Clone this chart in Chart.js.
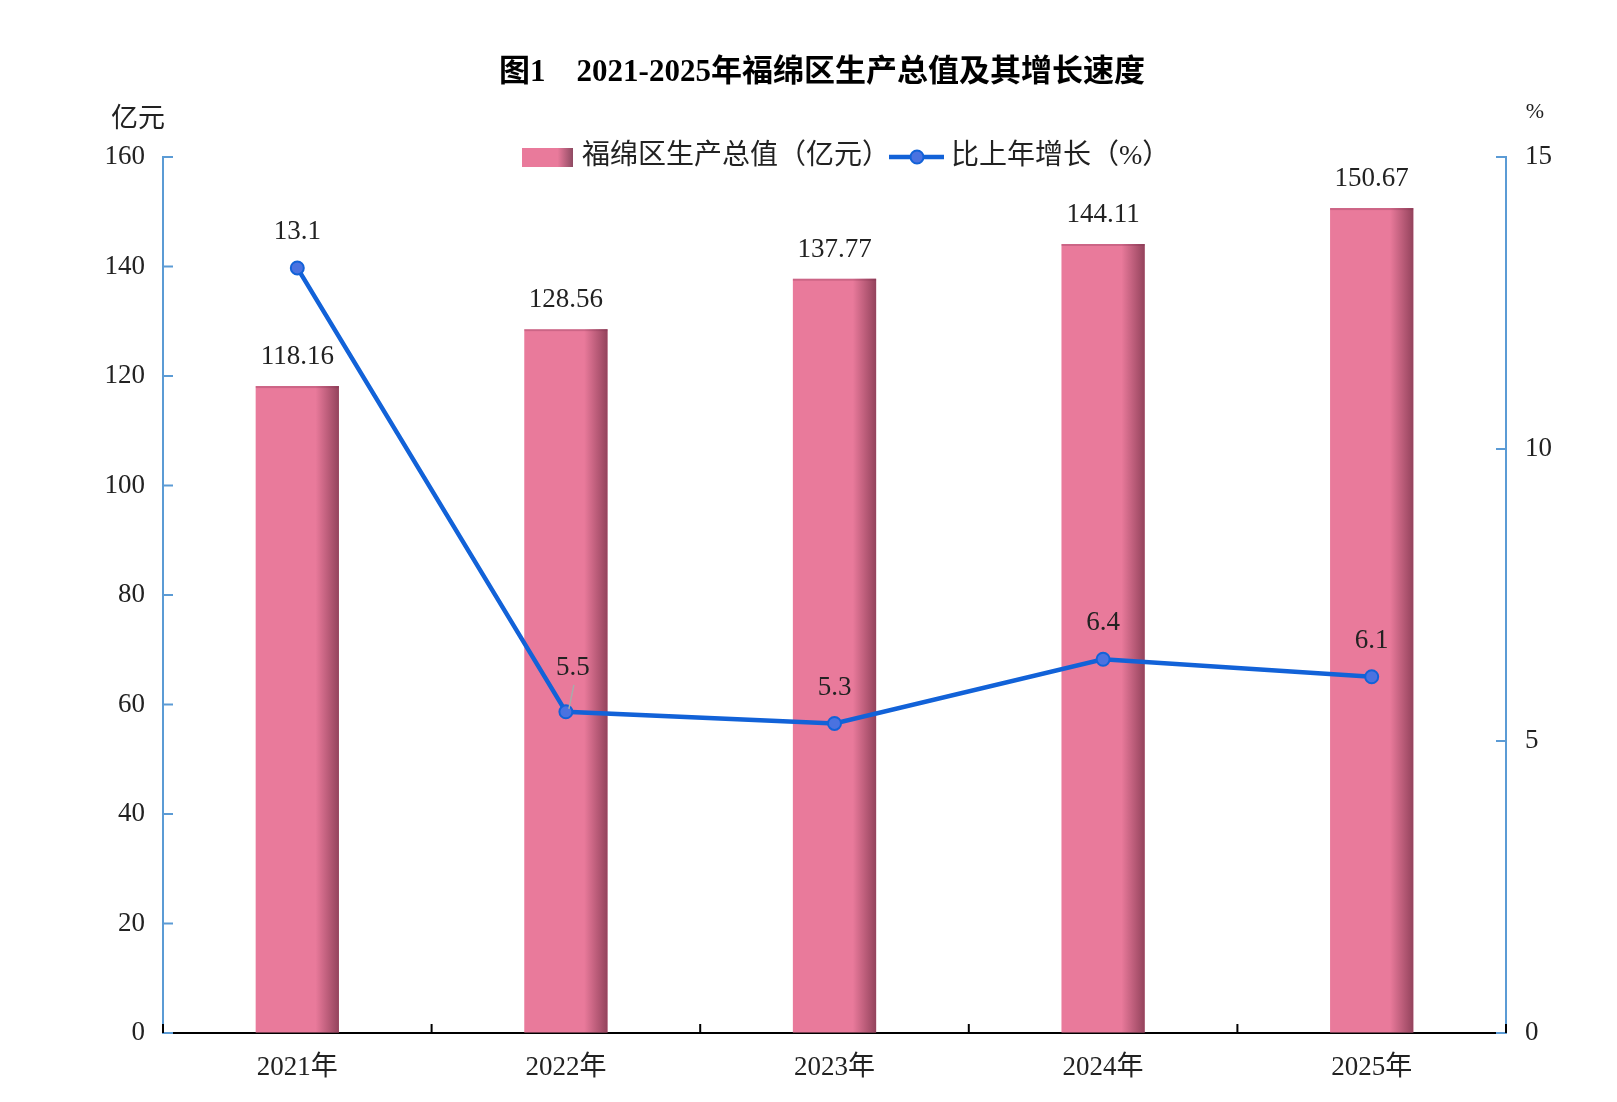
<!DOCTYPE html>
<html>
<head>
<meta charset="utf-8">
<script src="https://cdn.jsdelivr.net/npm/chart.js@4.4.1/dist/chart.umd.min.js"></script>
<style>
  html, body { margin: 0; background: #fff; }
  #wrap { width: 1617px; height: 1102px; }
</style>
</head>
<body>
<div id="wrap"><canvas id="gdpChart"></canvas></div>
<script>
// data
const years = ['2021年', '2022年', '2023年', '2024年', '2025年'];
const gdp = [118.16, 128.56, 137.77, 144.11, 150.67];      // 亿元
const growth = [13.1, 5.5, 5.3, 6.4, 6.1];                 // %
const leftMax = 160, leftStep = 20;
const rightMax = 15, rightStep = 5;

const serif = '"Liberation Serif", "Noto Sans CJK SC", serif';
const axisBlue = '#5B9BD5';
const lineBlue = '#1262D8';
const pink = '#E97A9B';
const textCol = '#222';

// title, legend, units, inward ticks, labels, bar shading
const decor = {
    id: 'decor',
    afterDatasetDraw(chart, args) {
        if (args.index !== 0) return;
        const ctx = chart.ctx;
        args.meta.data.forEach(bar => {
            const l = bar.x - bar.width / 2;
            const g = ctx.createLinearGradient(l, 0, l + bar.width, 0);
            g.addColorStop(0, 'rgba(90,30,50,0)');
            g.addColorStop(0.72, 'rgba(90,30,50,0)');
            g.addColorStop(1, 'rgba(90,30,50,0.6)');
            ctx.fillStyle = g;
            ctx.fillRect(l, bar.y, bar.width, bar.base - bar.y);
            ctx.fillStyle = 'rgba(120,40,70,0.25)';
            ctx.fillRect(l, bar.y, bar.width, 2);
        });
    },
    afterDraw(chart) {
        const ctx = chart.ctx;
        const area = chart.chartArea;
        const y = chart.scales.y, y1 = chart.scales.y1, x = chart.scales.x;
        ctx.save();

        // title
        ctx.fillStyle = '#000';
        ctx.font = 'bold 31px ' + serif;
        ctx.textAlign = 'center';
        ctx.textBaseline = 'middle';
        ctx.fillText('图1　2021-2025年福绵区生产总值及其增长速度', 822, 73);

        // units
        ctx.font = '27px ' + serif;
        ctx.fillStyle = textCol;
        ctx.fillText('亿元', 138, 120);
        ctx.font = '22px ' + serif;
        ctx.fillText('%', 1535, 112);

        // legend
        const ly = 157;
        const g = ctx.createLinearGradient(522, 0, 573, 0);
        g.addColorStop(0, pink);
        g.addColorStop(0.7, pink);
        g.addColorStop(1, '#8E4A62');
        ctx.fillStyle = g;
        ctx.fillRect(522, ly - 9, 51, 19);
        ctx.font = '28px ' + serif;
        ctx.fillStyle = textCol;
        ctx.textAlign = 'left';
        ctx.fillText('福绵区生产总值（亿元）', 582, ly);
        ctx.strokeStyle = lineBlue;
        ctx.lineWidth = 4.5;
        ctx.beginPath();
        ctx.moveTo(889, ly);
        ctx.lineTo(944, ly);
        ctx.stroke();
        ctx.beginPath();
        ctx.arc(917, ly, 6.5, 0, Math.PI * 2);
        ctx.fillStyle = '#4A72E0';
        ctx.fill();
        ctx.lineWidth = 2;
        ctx.stroke();
        ctx.fillStyle = textCol;
        ctx.fillText('比上年增长（%）', 951, ly);

        // inward tick marks
        ctx.lineWidth = 2;
        ctx.strokeStyle = axisBlue;
        y.ticks.forEach(t => {
            const p = y.getPixelForValue(t.value);
            ctx.beginPath();
            ctx.moveTo(area.left, p);
            ctx.lineTo(area.left + 10, p);
            ctx.stroke();
        });
        y1.ticks.forEach(t => {
            const p = y1.getPixelForValue(t.value);
            ctx.beginPath();
            ctx.moveTo(area.right, p);
            ctx.lineTo(area.right - 10, p);
            ctx.stroke();
        });
        ctx.strokeStyle = '#000';
        const half = (x.getPixelForValue(1) - x.getPixelForValue(0)) / 2;
        for (let i = 0; i <= years.length; i++) {
            const p = x.getPixelForValue(i) - half;
            ctx.beginPath();
            ctx.moveTo(p, area.bottom);
            ctx.lineTo(p, area.bottom - 9);
            ctx.stroke();
        }

        // data labels
        ctx.font = '27px ' + serif;
        ctx.fillStyle = textCol;
        ctx.textAlign = 'center';
        chart.getDatasetMeta(0).data.forEach((el, i) => {
            ctx.fillText(gdp[i].toFixed(2), el.x, el.y - 29);
        });
        chart.getDatasetMeta(1).data.forEach((el, i) => {
            if (i === 1) {
                ctx.strokeStyle = '#AAA';
                ctx.lineWidth = 1.5;
                ctx.beginPath();
                ctx.moveTo(el.x + 3, el.y - 3);
                ctx.lineTo(el.x + 8, el.y - 27);
                ctx.stroke();
                ctx.fillText(growth[i].toFixed(1), el.x + 7, el.y - 44);
            } else {
                ctx.fillText(growth[i].toFixed(1), el.x, el.y - 36);
            }
        });
        ctx.restore();
    }
};

new Chart(document.getElementById('gdpChart'), {
    type: 'bar',
    data: {
        labels: years,
        datasets: [{
            type: 'bar',
            label: '福绵区生产总值（亿元）',
            data: gdp,
            yAxisID: 'y',
            backgroundColor: pink,
            barPercentage: 0.31,
            categoryPercentage: 1,
            order: 1
        }, {
            type: 'line',
            label: '比上年增长（%）',
            data: growth,
            yAxisID: 'y1',
            borderColor: lineBlue,
            borderWidth: 4.5,
            pointRadius: 6.5,
            pointBackgroundColor: '#4A72E0',
            pointBorderColor: lineBlue,
            pointBorderWidth: 2,
            tension: 0,
            order: 0
        }]
    },
    options: {
        responsive: true,
        maintainAspectRatio: false,
        devicePixelRatio: 1,
        animation: false,
        layout: { padding: { top: 157 } },
        plugins: {
            legend: { display: false },
            title: { display: false },
            tooltip: { enabled: false }
        },
        scales: {
            x: {
                offset: true,
                grid: { display: true, drawOnChartArea: false, drawTicks: false },
                border: { color: '#000', width: 2 },
                ticks: { padding: 19, color: textCol, font: { family: serif, size: 27 } },
                afterFit: s => { s.height = 69; }
            },
            y: {
                position: 'left',
                min: 0,
                max: leftMax,
                grid: { display: true, drawOnChartArea: false, drawTicks: false },
                border: { color: axisBlue, width: 2 },
                ticks: { stepSize: leftStep, padding: 18, color: textCol, font: { family: serif, size: 27 } },
                afterFit: s => { s.width = 163; }
            },
            y1: {
                position: 'right',
                min: 0,
                max: rightMax,
                grid: { display: true, drawOnChartArea: false, drawTicks: false },
                border: { color: axisBlue, width: 2 },
                ticks: { stepSize: rightStep, padding: 19, color: textCol, font: { family: serif, size: 27 } },
                afterFit: s => { s.width = 111; }
            }
        }
    },
    plugins: [decor]
});
</script>
</body>
</html>
